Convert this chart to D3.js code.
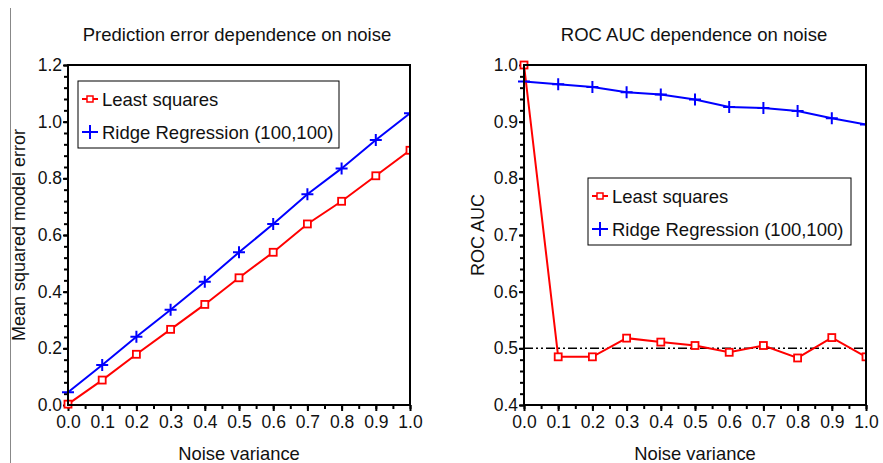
<!DOCTYPE html>
<html lang="en-US">
<head>
<meta charset="UTF-8">
<title>Noise dependence</title>
<style>
  body {margin: 0; background: #fff;}
  svg {font-family: Arial, "Liberation Sans", sans-serif; display: block;}
  .frame {fill: none; stroke: #000; stroke-width: 2;}
  .axis path {display: none;}
  .axis line {stroke: #000; stroke-width: 2;}
  .axis text {font-size: 17.5px; fill: #111;}
</style>
</head>
<body>
<div id="viz"></div>
<script src="https://cdn.jsdelivr.net/npm/d3@7"></script>
<script>

var noise = [0.0, 0.1, 0.2, 0.3, 0.4, 0.5, 0.6, 0.7, 0.8, 0.9, 1.0];

// left panel: mean squared model error
var mseLeast = [0.003, 0.088, 0.179, 0.267, 0.355, 0.449, 0.539, 0.639, 0.719, 0.809, 0.899];
var mseRidge = [0.045, 0.141, 0.241, 0.336, 0.435, 0.539, 0.639, 0.744, 0.835, 0.935, 1.03];

// right panel: ROC AUC
var aucLeast = [1.0, 0.485, 0.485, 0.518, 0.511, 0.505, 0.493, 0.505, 0.483, 0.519, 0.485];
var aucRidge = [0.971, 0.966, 0.961, 0.952, 0.948, 0.939, 0.926, 0.924, 0.919, 0.906, 0.895];
var chanceLevel = 0.5;

var seriesNames = ["Least squares", "Ridge Regression (100,100)"];
var xTicks = [0, 0.1, 0.2, 0.3, 0.4, 0.5, 0.6, 0.7, 0.8, 0.9, 1.0];
var mseTicks = [0, 0.2, 0.4, 0.6, 0.8, 1.0, 1.2];
var aucTicks = [0.4, 0.5, 0.6, 0.7, 0.8, 0.9, 1.0];

var width = 883, height = 463;
var svg = d3.select("#viz").append("svg")
    .attr("width", width)
    .attr("height", height);

// thin page border on the left
svg.append("line")
    .attr("x1", 10.5).attr("x2", 10.5)
    .attr("y1", 8).attr("y2", height)
    .attr("stroke", "#888").attr("stroke-width", 1);

function drawPanel(opt) {
    var x = d3.scaleLinear().domain([0, 1]).range([opt.left, opt.right]);
    var y = d3.scaleLinear().domain(opt.yDomain).range([405, 65]);
    var g = svg.append("g");

    g.append("text")
        .attr("x", opt.titleX)
        .attr("y", 41)
        .attr("text-anchor", "middle")
        .style("font-size", "18.5px")
        .attr("fill", "#111")
        .text(opt.title);

    // minor ticks
    var xMinor = d3.range(0, 21).map(function(i) { return i * 0.05; });
    g.append("g").attr("class", "axis")
        .attr("transform", "translate(0,405)")
        .call(d3.axisBottom(x).tickValues(xMinor).tickSize(4).tickFormat(""));
    var yStep = (opt.yDomain[1] - opt.yDomain[0]) / 30;
    var yMinor = d3.range(0, 31).map(function(i) { return opt.yDomain[0] + i * yStep; });
    g.append("g").attr("class", "axis")
        .attr("transform", "translate(" + opt.left + ",0)")
        .call(d3.axisLeft(y).tickValues(yMinor).tickSize(4).tickFormat(""));

    // major ticks
    g.append("g").attr("class", "axis")
        .attr("transform", "translate(0,405)")
        .call(d3.axisBottom(x).tickValues(xTicks).tickSize(6).tickPadding(5).tickFormat(d3.format(".1f")));
    g.append("g").attr("class", "axis")
        .attr("transform", "translate(" + opt.left + ",0)")
        .call(d3.axisLeft(y).tickValues(opt.yTicks).tickSize(5).tickPadding(1).tickFormat(d3.format(".1f")));

    g.append("text")
        .attr("x", (opt.left + opt.right) / 2)
        .attr("y", 460)
        .attr("text-anchor", "middle")
        .style("font-size", "18.4px")
        .attr("fill", "#111")
        .text("Noise variance");

    g.append("text")
        .attr("transform", "translate(" + opt.yLabelX + ",235) rotate(-90)")
        .attr("text-anchor", "middle")
        .style("font-size", "18px")
        .attr("fill", "#111")
        .text(opt.yLabel);

    var clipId = "clip" + opt.left;
    svg.append("clipPath").attr("id", clipId)
        .append("rect")
        .attr("x", opt.left - 6).attr("y", 60)
        .attr("width", opt.right - opt.left + 6).attr("height", 350);

    var plot = g.append("g").attr("clip-path", "url(#" + clipId + ")");

    if (opt.refLine != null) {
        plot.append("line")
            .attr("x1", x(0)).attr("x2", x(1))
            .attr("y1", y(opt.refLine)).attr("y2", y(opt.refLine))
            .attr("stroke", "#000").attr("stroke-width", 1.5)
            .attr("stroke-dasharray", "9,3,2,3,2,3");
    }

    var line = d3.line()
        .x(function(d) { return x(d[0]); })
        .y(function(d) { return y(d[1]); });

    var ls = d3.zip(noise, opt.least);
    var rr = d3.zip(noise, opt.ridge);

    plot.append("path").datum(rr)
        .attr("d", line).attr("fill", "none")
        .attr("stroke", "#0000ff").attr("stroke-width", 2);
    plot.append("path").datum(ls)
        .attr("d", line).attr("fill", "none")
        .attr("stroke", "#ff0000").attr("stroke-width", 2);

    plot.selectAll(".plus").data(rr).enter().append("path")
        .attr("class", "plus")
        .attr("d", function(d) {
            var cx = x(d[0]), cy = y(d[1]);
            return "M" + (cx - 6) + "," + cy + "H" + (cx + 6) + "M" + cx + "," + (cy - 6) + "V" + (cy + 6);
        })
        .attr("stroke", "#0000ff").attr("stroke-width", 2);

    plot.selectAll(".sq").data(ls).enter().append("rect")
        .attr("class", "sq")
        .attr("x", function(d) { return x(d[0]) - 3.5; })
        .attr("y", function(d) { return y(d[1]) - 3.5; })
        .attr("width", 7).attr("height", 7)
        .attr("fill", "#fff").attr("stroke", "#ff0000").attr("stroke-width", 1.8);

    g.append("rect").attr("class", "frame")
        .attr("x", opt.left).attr("y", 65)
        .attr("width", opt.right - opt.left).attr("height", 340);

    // legend
    var lg = g.append("g").attr("transform", "translate(" + opt.legend[0] + "," + opt.legend[1] + ")");
    lg.append("rect")
        .attr("width", opt.legend[2]).attr("height", opt.legend[3])
        .attr("fill", "#fff").attr("stroke", "#000").attr("stroke-width", 1);
    var rowY = [18, 51];
    var colors = ["#ff0000", "#0000ff"];
    seriesNames.forEach(function(name, i) {
        lg.append("line")
            .attr("x1", 4).attr("x2", 20)
            .attr("y1", rowY[i]).attr("y2", rowY[i])
            .attr("stroke", colors[i]).attr("stroke-width", 2);
        if (i === 0) {
            lg.append("rect")
                .attr("x", 9).attr("y", rowY[i] - 3)
                .attr("width", 6).attr("height", 6)
                .attr("fill", "#fff").attr("stroke", colors[i]).attr("stroke-width", 1.5);
        } else {
            lg.append("line")
                .attr("x1", 12).attr("x2", 12)
                .attr("y1", rowY[i] - 7).attr("y2", rowY[i] + 7)
                .attr("stroke", colors[i]).attr("stroke-width", 2);
        }
        lg.append("text")
            .attr("x", 24).attr("y", rowY[i] + 6.5)
            .style("font-size", "18.5px")
            .attr("fill", "#111")
            .text(name);
    });
}

drawPanel({
    left: 68, right: 410,
    yDomain: [0, 1.2], yTicks: mseTicks,
    least: mseLeast, ridge: mseRidge,
    title: "Prediction error dependence on noise", titleX: 237,
    yLabel: "Mean squared model error", yLabelX: 25,
    legend: [78, 81, 261, 67],
    refLine: null
});

drawPanel({
    left: 524, right: 866,
    yDomain: [0.4, 1.0], yTicks: aucTicks,
    least: aucLeast, ridge: aucRidge,
    title: "ROC AUC dependence on noise", titleX: 694,
    yLabel: "ROC AUC", yLabelX: 484,
    legend: [588, 178, 263, 67],
    refLine: chanceLevel
});

</script>
</body>
</html>
